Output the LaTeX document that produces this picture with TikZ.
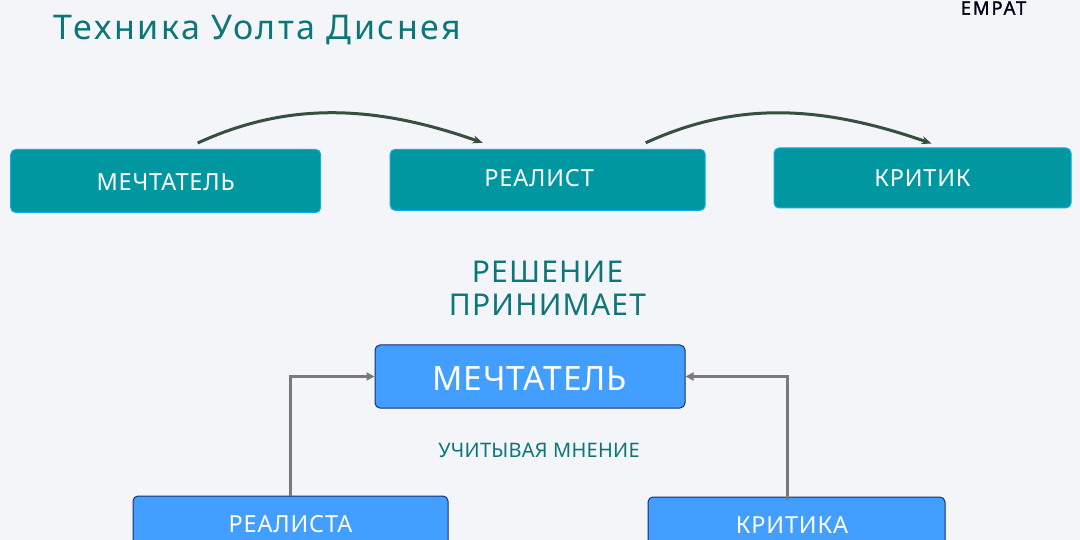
\documentclass[tikz,border=0pt]{standalone}
\usepackage{fontspec}
\setmainfont{Noto Sans}
\usetikzlibrary{arrows.meta,calc}
\definecolor{pagebg}{HTML}{F3F5F8}
\definecolor{tealbox}{HTML}{0097A0}
\definecolor{tealedge}{HTML}{14ABEA}
\definecolor{bluebox}{HTML}{429EFF}
\definecolor{blueedge}{HTML}{12307A}
\definecolor{tealtext}{HTML}{0E7678}
\definecolor{curve}{HTML}{35503F}
\definecolor{elbow}{HTML}{7A7A7A}
\newcommand{\off}[3]{\raisebox{#2pt}{\hspace*{#1pt}#3}}
\newcommand{\ls}[1]{\addfontfeature{LetterSpace=#1}}
\tikzset{
  x=1pt,y=-1pt,
  boxbase/.style={rounded corners=5pt,line width=1pt,text=white,inner sep=0pt,text depth=0pt},
  tealnode/.style={boxbase,draw=tealedge,fill=tealbox,font=\fontsize{23.5}{27}\selectfont\ls{3.5}},
  bluenode/.style={boxbase,draw=blueedge,fill=bluebox,font=\fontsize{23.5}{27}\selectfont\ls{3.5}},
  heading/.style={text=tealtext,inner sep=0pt,text depth=0pt},
  curvearrow/.style={draw=curve,line width=3pt,-{Stealth[length=10pt,width=8pt]}},
  elbowarrow/.style={draw=elbow,line width=3pt,-{Triangle[length=8pt,width=8pt]}},
}
\begin{document}
\begin{tikzpicture}
\clip (0,0) rectangle (1080,540);
\useasboundingbox (0,0) rectangle (1080,540);
\fill[pagebg] (0,0) rectangle (1080,540);

\node[heading,font=\fontsize{34}{38}\selectfont\ls{7.5}] (title) at (257.5,27) {Техника Уолта Диснея};
\node[text=black!90!blue,inner sep=0pt,text depth=0pt,font=\fontsize{18.5}{20}\selectfont\addfontfeature{FakeBold=1.5,LetterSpace=10}] (logo) at (993.5,8) {EMPAT};

\node[tealnode,minimum width=310pt,minimum height=63pt] (dream) at (165.7,181) {\off{0}{-2}{МЕЧТАТЕЛЬ}};
\node[tealnode,minimum width=315pt,minimum height=61pt] (real) at (547.7,179.8) {\off{-17}{3}{РЕАЛИСТ}};
\node[tealnode,minimum width=297pt,minimum height=60pt] (crit) at (922.5,178) {КРИТИК};

\node[heading,font=\fontsize{30}{36}\selectfont\ls{4}] (dec1) at (547.5,272) {РЕШЕНИЕ};
\node[heading,font=\fontsize{30}{36}\selectfont\ls{4}] (dec2) at (547.5,305) {ПРИНИМАЕТ};

\node[bluenode,font=\fontsize{33.5}{38}\selectfont\ls{2.5},minimum width=310pt,minimum height=63pt] (main) at (530,376.5) {\off{0}{-3}{МЕЧТАТЕЛЬ}};
\node[heading,font=\fontsize{20}{24}\selectfont\ls{1.3}] (note) at (539,450) {УЧИТЫВАЯ МНЕНИЕ};
\node[bluenode,minimum width=315pt,minimum height=56pt] (realist) at (290.5,524) {РЕАЛИСТА};
\node[bluenode,minimum width=297pt,minimum height=56pt] (critic) at (796.5,525) {\off{-9}{0}{КРИТИКА}};

\coordinate (a1s) at ($(dream.north)+(32,-6)$);
\coordinate (a1e) at ($(real.north)+(-65,-6)$);
\coordinate (a2s) at ($(real.north)+(98,-6)$);
\coordinate (a2e) at ($(crit.north)+(9,-4)$);

\draw[curvearrow] (a1s) .. controls (285,103) and (370,103) .. (a1e);
\draw[curvearrow] (a2s) .. controls (733,103) and (815,103) .. (a2e);

\draw[elbowarrow] (realist.north) |- (main.west);
\draw[elbowarrow] ([xshift=-9.5pt,yshift=-3pt]critic.north) |- (main.east);
\end{tikzpicture}
\end{document}
